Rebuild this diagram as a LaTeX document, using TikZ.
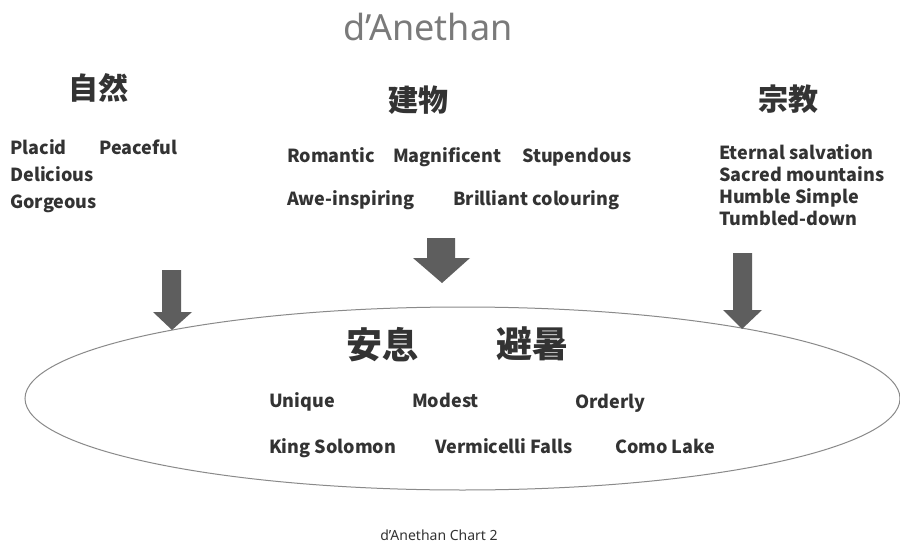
\documentclass[tikz,border=0pt]{standalone}
\usepackage{fontspec}
\setmainfont{Noto Sans}
\newfontfamily\cjk{Noto Sans CJK JP}
\usetikzlibrary{shapes.geometric}
\definecolor{txt}{HTML}{333333}
\definecolor{arrowgray}{HTML}{5E5E5E}
\definecolor{linegray}{HTML}{8A8A8A}
\definecolor{titlegray}{HTML}{7A7A7A}
\tikzset{
  word/.style={anchor=base west, inner sep=0pt, text=txt, font=\cjk\fontsize{18}{21}\selectfont\bfseries},
  head/.style={inner sep=0pt, text=txt, font=\cjk\fontsize{30}{34}\selectfont\bfseries},
  bighead/.style={inner sep=0pt, text=txt, font=\cjk\fontsize{36}{40}\selectfont\bfseries},
  blockarrow/.style={fill=arrowgray, draw=none},
}
\begin{document}
\begin{tikzpicture}[x=1pt,y=-1pt]
\useasboundingbox (0,0) rectangle (900,543);
\fill[white] (0,0) rectangle (900,543);
% title
\node[inner sep=0pt, text=titlegray, font=\fontsize{36}{40}\selectfont] (title) at (428,27) {d’Anethan};
% headers
\node[head] (nature) at (98,88) {自然};
\node[head] (building) at (418,100) {建物};
\node[head] (religion) at (788,99) {宗教};
% nature words
\node[word] (placid) at (10,154.5) {Placid};
\node[word] (peaceful) at (99,154.5) {Peaceful};
\node[word] (delicious) at (10,181.5) {Delicious};
\node[word] (gorgeous) at (10,208.5) {Gorgeous};
% building words
\node[word] (romantic) at (287,162.5) {Romantic};
\node[word] (magnificent) at (393,162.5) {Magnificent};
\node[word] (stupendous) at (522,162.5) {Stupendous};
\node[word] (awe) at (287,205.5) {Awe-inspiring};
\node[word] (brilliant) at (453,205.5) {Brilliant colouring};
% religion words
\node[word] (eternal) at (719,159.5) {Eternal salvation};
\node[word] (sacred) at (719,181.5) {Sacred mountains};
\node[word] (humble) at (719,203.5) {Humble Simple};
\node[word] (tumbled) at (719,225.5) {Tumbled-down};
% ellipse
\node[ellipse, draw=linegray, line width=1pt, minimum width=875pt, minimum height=183pt, inner sep=0pt] (oval) at (462.5,398.5) {};
% arrows
\coordinate (la) at (172,330);
\coordinate (ma) at (442,283);
\coordinate (ra) at (742,329);
\fill[blockarrow] (162,270) -- (181,270) -- (181,312) -- (192,312) -- (la) -- (153,312) -- (162,312) -- cycle;
\fill[blockarrow] (427,238) -- (455,238) -- (455,258) -- (470,258) -- (ma) -- (413,258) -- (427,258) -- cycle;
\fill[blockarrow] (733,253) -- (752,253) -- (752,310) -- (762,310) -- (ra) -- (723,310) -- (733,310) -- cycle;
% inner headers
\node[bighead] (rest) at (382,345) {安息};
\node[bighead] (summer) at (532,344) {避暑};
% inner words
\node[word] (unique) at (269,407.5) {Unique};
\node[word] (modest) at (412,407.5) {Modest};
\node[word] (orderly) at (575,408.5) {Orderly};
\node[word] (king) at (269,453.5) {King Solomon};
\node[word] (vermicelli) at (435,453.5) {Vermicelli Falls};
\node[word] (como) at (615,453.5) {Como Lake};
% footer
\node[inner sep=0pt, text=txt, font=\fontsize{14}{16}\selectfont] (footer) at (439,535) {d’Anethan Chart 2};
\end{tikzpicture}
\end{document}
